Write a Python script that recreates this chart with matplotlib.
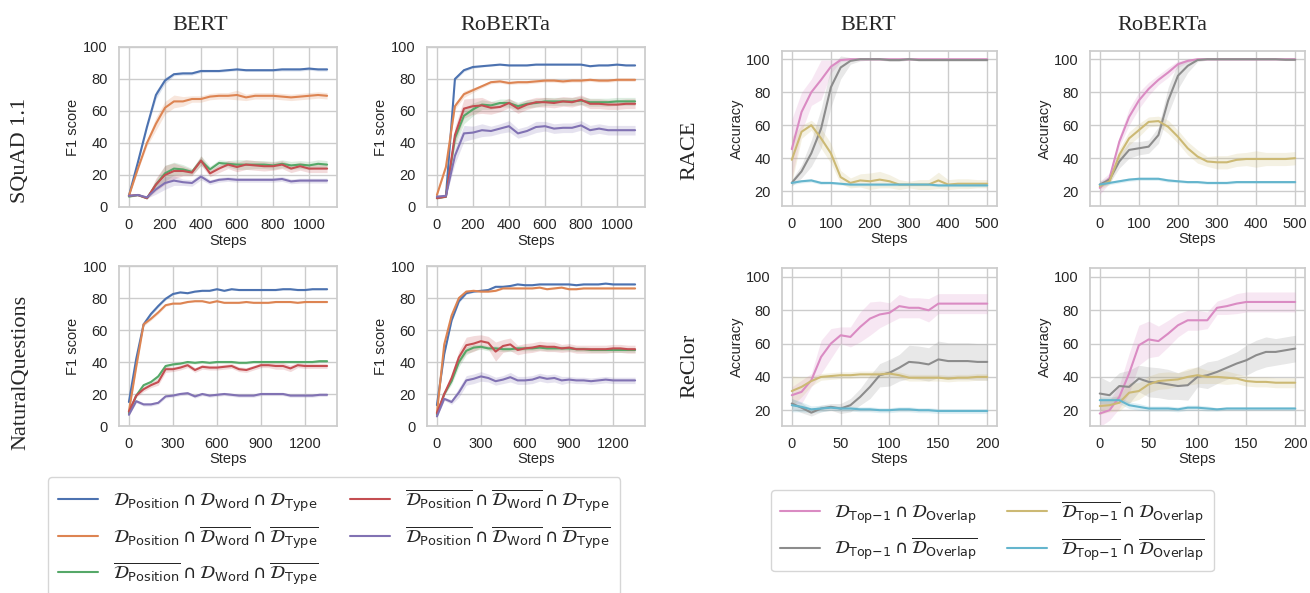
import numpy as np
import matplotlib
matplotlib.use('Agg')
import matplotlib.pyplot as plt
import seaborn as sns

sns.set_theme(style='whitegrid')
plt.rcParams['font.family'] = ['Liberation Sans', 'DejaVu Sans']
plt.rcParams['mathtext.fontset'] = 'dejavusans'

# ---------------- data: reading comprehension (F1) ----------------
squad_steps = list(range(0, 1101, 50))
nq_steps = list(range(0, 1351, 50))

squad_bert_blue = [7, 28, 50, 70, 79, 83, 83.5, 83.5, 85, 85, 85, 85.5, 86, 85.5, 85.5, 85.5, 85.5, 86, 86, 86, 86.5, 86, 86]
squad_bert_orange = [7, 24, 40, 52, 62, 66, 66, 67.5, 67.5, 69, 69.5, 69.5, 70, 68.5, 69.5, 69.5, 69.5, 69, 68.5, 69, 69.5, 70, 69.5]
squad_bert_green = [6.5, 7.5, 5.5, 14, 21, 24, 23.5, 22, 29, 23.5, 27.5, 27, 26.5, 26.5, 26.5, 26.5, 26, 27, 26, 26.5, 26, 27, 26.5]
squad_bert_red = [7, 7.5, 5.5, 14, 20, 22.5, 22.5, 21.5, 29, 21, 24, 26.5, 25, 26.5, 26, 25.5, 25.5, 26.5, 24, 25.5, 24, 24, 24]
squad_bert_purple = [7, 7.5, 6, 11, 15, 16.5, 15.5, 15, 19, 15.5, 17, 17.5, 17, 17, 17, 17, 17, 17.5, 16, 16.5, 16.5, 16.5, 16.5]

squad_bert_blue_band = [0.5, 1, 1.5, 2.5, 2, 1, 1, 1, 1, 0.8, 0.8, 0.8, 0.8, 0.8, 0.8, 0.8, 0.8, 1, 1, 1, 1, 1, 1]
squad_bert_orange_band = [0.5, 1, 2, 4, 4, 4, 3, 2, 2, 2, 2, 2, 3, 2, 2, 2, 2, 2, 2, 2, 2, 2, 2]
squad_bert_green_band = [0.5, 0.5, 0.5, 3, 5, 4, 3, 2, 3, 2, 2, 2, 3, 3, 2.5, 2.5, 2.5, 2.5, 2.5, 2.5, 2.5, 2.5, 2.5]
squad_bert_red_band = [0.5, 0.5, 0.5, 4, 6, 5, 3, 2, 3, 2, 2.5, 2.5, 3, 3, 3, 3, 2.5, 2.5, 2.5, 2.5, 2.5, 2.5, 2.5]
squad_bert_purple_band = [0.5, 0.5, 0.5, 3, 4, 3, 2, 2, 2, 1.5, 1.5, 1.5, 1.5, 1.5, 1.5, 1.5, 1.5, 1.5, 1.5, 1.5, 1.5, 1.5, 1.5]

squad_roberta_blue = [6, 6.5, 80, 85.5, 87.5, 88, 88.5, 89, 88.5, 88.5, 88.5, 89, 89, 89, 89, 89, 89, 88, 88.5, 88.5, 89, 88.5, 88.5]
squad_roberta_orange = [7.5, 25, 63, 70.5, 73, 75.5, 78, 78.5, 77.5, 78, 78, 78.5, 79, 79, 78.5, 79, 79, 79.5, 79, 79, 79.5, 79.5, 79.5]
squad_roberta_green = [5.5, 6.5, 43, 57, 61, 64, 63.5, 65, 65, 63, 64.5, 65, 66, 66, 66, 66, 66.5, 65.5, 65.5, 65.5, 66, 66, 66]
squad_roberta_red = [5.5, 6.5, 45, 61.5, 63, 63.5, 62, 62.5, 65, 61.5, 64, 65.5, 65.5, 65, 66, 65.5, 67, 64.5, 64.5, 64, 64, 64.5, 64.5]
squad_roberta_purple = [6.5, 7, 32, 46, 46.5, 48, 47.5, 49, 50.5, 46, 47.5, 50, 50.5, 49, 49.5, 49.5, 51, 48, 49, 48, 48, 48, 48]

squad_roberta_blue_band = [0.5, 0.5, 1, 1, 0.8, 0.5, 0.5, 0.5, 0.5, 0.5, 0.5, 0.5, 0.5, 0.5, 0.5, 0.5, 0.5, 0.5, 0.5, 0.5, 0.5, 0.5, 0.5]
squad_roberta_orange_band = [0.5, 1, 2, 2, 1.5, 1, 1, 1, 1, 1, 1, 1, 1, 1, 1, 1, 1, 1, 1, 1, 1, 1, 1]
squad_roberta_green_band = [0.5, 0.5, 5, 5, 4, 3, 2.5, 2.5, 2.5, 2.5, 2.5, 2.5, 2.5, 2.5, 2.5, 2.5, 2.5, 2.5, 2.5, 2.5, 2.5, 2.5, 2.5]
squad_roberta_red_band = [0.5, 0.5, 5, 6, 5, 5, 4, 3, 3, 3, 3, 3, 3, 3, 3, 3, 3, 3, 3, 3, 3, 3, 3]
squad_roberta_purple_band = [0.5, 0.5, 5, 5, 4, 4, 3, 3, 3.5, 3, 3, 3.5, 3, 3, 3, 3, 3, 3, 3, 3, 3, 3, 3]

nq_bert_blue = [15, 42, 63.5, 70, 75, 79.5, 82.5, 83.5, 83, 84, 84.5, 84.5, 85.5, 84.5, 85.5, 85, 85, 85, 85, 85, 85, 85.5, 85.5, 85, 85, 85.5, 85.5, 85.5]
nq_bert_orange = [9, 37, 63.5, 67, 71, 75.5, 76.5, 76.5, 77.5, 78, 78, 77, 78, 77, 77, 77, 77.5, 77, 77, 77, 77.5, 77.5, 77.5, 77, 77.5, 77.5, 77.5, 77.5]
nq_bert_green = [8, 19, 25.5, 27.5, 31, 37.5, 38.5, 39, 40, 39.5, 40, 39.5, 40, 40, 40, 39.5, 39.5, 40, 40, 40, 40, 40, 40, 40, 40, 40, 40.5, 40.5]
nq_bert_red = [9, 19, 23, 25.5, 27.5, 35.5, 35.5, 36.5, 38, 35, 37, 36.5, 36.5, 37, 37.5, 35.5, 35, 36.5, 38, 38, 37.5, 37.5, 36, 38, 37.5, 37.5, 37.5, 37.5]
nq_bert_purple = [7, 15.5, 13.5, 13.5, 14.5, 18.5, 19, 20, 20.5, 18.5, 20, 19, 19.5, 20, 19.5, 19, 19, 19, 20, 20, 20, 20, 19, 19, 19, 19, 19.5, 19.5]

nq_bert_blue_band = [0.5, 1, 1, 1, 1, 0.8, 0.5, 0.5, 0.5, 0.5, 0.5, 0.5, 0.5, 0.5, 0.5, 0.5, 0.5, 0.5, 0.5, 0.5, 0.5, 0.5, 0.5, 0.5, 0.5, 0.5, 0.5, 0.5]
nq_bert_orange_band = [0.5, 1, 1, 1, 1, 0.8, 0.5, 0.5, 0.5, 0.5, 0.5, 0.5, 0.5, 0.5, 0.5, 0.5, 0.5, 0.5, 0.5, 0.5, 0.5, 0.5, 0.5, 0.5, 0.5, 0.5, 0.5, 0.5]
nq_bert_green_band = [0.5, 1, 1, 1, 1.5, 1, 0.8, 0.8, 0.8, 0.8, 0.8, 0.8, 0.8, 0.8, 0.8, 0.8, 0.8, 0.8, 0.8, 0.8, 0.8, 0.8, 0.8, 0.8, 0.8, 0.8, 0.8, 0.8]
nq_bert_red_band = [0.5, 1, 1.5, 1.5, 2, 2, 1.5, 1.5, 1.5, 1.5, 1.5, 1.5, 1.5, 1.5, 1.5, 1.5, 1.5, 1.5, 1.5, 1.5, 2, 2, 2, 1.5, 1.5, 1.5, 1.5, 1.5]
nq_bert_purple_band = [0.5, 1, 1, 1, 1, 1, 1, 1, 1, 1, 1, 1, 1, 1, 1, 1, 1, 1, 1, 1, 1, 1, 1, 1, 1, 1, 1, 1]

nq_roberta_blue = [13, 45, 66, 78, 83, 84, 84.5, 85, 87, 87, 87.5, 88.5, 88, 88, 88.5, 88.5, 88.5, 88.5, 88.5, 88, 88.5, 88.5, 88.5, 89, 88.5, 88.5, 88.5, 88.5]
nq_roberta_orange = [8, 51, 69, 80, 84, 84.5, 84, 84, 84.5, 86, 86, 86, 86, 86, 86.5, 85.5, 86, 86.5, 85.5, 85.5, 86, 86, 86, 86, 86, 86, 86, 86]
nq_roberta_green = [7, 20, 28, 40, 47, 49, 49.5, 48.5, 48.5, 48, 48, 48.5, 48.5, 48.5, 49, 48.5, 48.5, 48.5, 48.5, 48, 48, 47.5, 47.5, 47.5, 47.5, 47.5, 47.5, 47.5]
nq_roberta_red = [8, 20, 30, 43, 50.5, 51.5, 53, 52, 46.5, 50, 51, 47.5, 48.5, 49, 50, 49.5, 49.5, 48.5, 49, 48, 48, 48, 48, 48, 48.5, 48.5, 48, 48]
nq_roberta_purple = [6, 17, 15, 21, 28.5, 29.5, 31, 30, 28, 29, 30.5, 28.5, 28.5, 29, 30.5, 29.5, 30, 28.5, 29, 28.5, 28.5, 28, 28.5, 29, 28.5, 28.5, 28.5, 28.5]

nq_roberta_blue_band = [0.5, 1, 1, 1, 0.8, 0.5, 0.5, 0.5, 0.5, 0.5, 0.5, 0.5, 0.5, 0.5, 0.5, 0.5, 0.5, 0.5, 0.5, 0.5, 0.5, 0.5, 0.5, 0.5, 0.5, 0.5, 0.5, 0.5]
nq_roberta_orange_band = [0.5, 1, 1, 1, 0.8, 0.5, 0.5, 0.5, 0.5, 0.5, 0.5, 0.5, 0.5, 0.5, 0.5, 0.5, 0.5, 0.5, 0.5, 0.5, 0.5, 0.5, 0.5, 0.5, 0.5, 0.5, 0.5, 0.5]
nq_roberta_green_band = [0.5, 1, 2, 3, 2.5, 2, 1.5, 1.5, 1.5, 1.5, 1.5, 1.5, 1.5, 1.5, 1.5, 1.5, 1.5, 1.5, 1.5, 1.5, 1.5, 1.5, 1.5, 1.5, 1.5, 1.5, 1.5, 1.5]
nq_roberta_red_band = [0.5, 1, 2, 4, 5, 5, 4, 4, 6, 4, 4, 3, 3, 3, 3, 3, 3, 2.5, 2.5, 2.5, 2.5, 2.5, 2.5, 2.5, 2.5, 2.5, 2.5, 2.5]
nq_roberta_purple_band = [0.5, 1, 1.5, 3, 3, 3, 3, 2.5, 2.5, 2.5, 3, 2.5, 2.5, 2.5, 2.5, 2.5, 2.5, 2.5, 2, 2, 2, 2, 2, 2, 2, 2, 2, 2]

# ---------------- data: multiple choice (accuracy) ----------------
race_steps = list(range(0, 501, 25))
reclor_steps = list(range(0, 201, 10))

race_bert_pink = [45.5, 68, 80, 87.5, 95.5, 99.5, 100, 100, 100, 100, 100, 100, 100, 100, 100, 100, 100, 100, 100, 100, 100]
race_bert_gray = [25, 32, 43, 58, 83, 95, 99, 100, 100, 100, 99.5, 99.5, 100, 99.5, 99.5, 99.5, 99.5, 99.5, 99.5, 99.5, 99.5]
race_bert_olive = [39, 56, 60, 52, 43, 28.5, 25, 26.5, 26, 27, 26, 24, 24, 24, 24, 26.5, 24, 24.5, 24.5, 24.5, 24.5]
race_bert_cyan = [25, 26, 26.5, 25, 25, 24.5, 24, 24, 24, 24, 24, 24, 24, 24, 24, 23.5, 23.5, 23.5, 23.5, 23.5, 23.5]

race_bert_pink_band = [18, 12, 8, 12, 4, 1, 0.5, 0.5, 0.5, 0.5, 0.5, 0.5, 0.5, 0.5, 0.5, 0.5, 0.5, 0.5, 0.5, 0.5, 0.5]
race_bert_gray_band = [2, 4, 8, 12, 12, 7, 2, 1, 0.5, 0.5, 0.8, 0.8, 0.5, 0.5, 0.5, 0.5, 0.5, 0.5, 0.5, 0.5, 0.5]
race_bert_olive_band = [14, 4, 3, 6, 6, 4, 3, 4, 5, 5, 4, 3, 2, 3, 3, 5, 3, 3, 3, 2.5, 2.5]
race_bert_cyan_band = [1, 1, 1, 1, 0.8, 0.8, 0.8, 0.8, 0.8, 0.8, 0.8, 0.8, 0.8, 0.8, 0.8, 0.8, 0.8, 0.8, 0.8, 0.8, 0.8]

race_roberta_pink = [22, 28, 50, 65, 75, 82, 87.5, 92, 97, 99, 100, 100, 100, 100, 100, 100, 100, 100, 100, 100, 100]
race_roberta_gray = [24, 27, 38, 45, 46, 47, 54, 75, 90, 96, 99.5, 100, 100, 100, 100, 100, 100, 100, 100, 99.7, 99.7]
race_roberta_olive = [23, 26, 42, 52, 57, 62, 62.5, 59, 53, 46, 41, 38, 37.5, 37.5, 39, 39.5, 39.5, 39.5, 39.5, 39.5, 40]
race_roberta_cyan = [24, 25, 26, 27, 27.5, 27.5, 27.5, 26.5, 26, 25.5, 25.5, 25, 25, 25, 25.5, 25.5, 25.5, 25.5, 25.5, 25.5, 25.5]

race_roberta_pink_band = [4, 3, 3, 5, 5, 4, 3, 3, 2, 1, 0.5, 0.5, 0.5, 0.5, 0.5, 0.5, 0.5, 0.5, 0.5, 0.5, 0.5]
race_roberta_gray_band = [2, 2, 4, 5, 4, 4, 5, 8, 8, 4, 1, 0.5, 0.5, 0.5, 0.5, 0.5, 0.5, 0.5, 0.5, 0.5, 0.5]
race_roberta_olive_band = [2, 2, 4, 4, 4, 3, 3, 4, 4, 4, 4, 3, 4, 4, 4, 4, 5, 4, 4, 4, 4]
race_roberta_cyan_band = [1, 1, 1, 1, 1, 1, 1, 1, 0.8, 0.8, 0.8, 0.8, 0.8, 0.8, 0.8, 0.8, 0.8, 0.8, 0.8, 0.8, 0.8]

reclor_bert_pink = [29, 31, 38, 52, 60, 65, 64, 70, 75, 77.5, 78.5, 82.5, 81.5, 81.5, 80, 84, 84, 84, 84, 84, 84]
reclor_bert_gray = [24, 21.5, 18.5, 21, 22, 21, 23, 28, 34, 41, 42.5, 45.5, 49, 48.5, 47.5, 50.5, 49.5, 49.5, 49.5, 49, 49]
reclor_bert_olive = [31.5, 34, 37.5, 40, 40.5, 41, 41, 41.5, 41.5, 41.5, 42, 41, 39.5, 39.5, 39.5, 39.5, 39, 39.5, 39.5, 40, 40]
reclor_bert_cyan = [23, 22, 20.5, 21, 21.5, 21, 21, 20.5, 20.5, 20, 20, 20.5, 20.5, 20, 20, 19.5, 19.5, 19.5, 19.5, 19.5, 19.5]

reclor_bert_pink_band = [5, 7, 4, 10, 9, 5, 6, 9, 10, 8, 6, 7, 6, 6, 7, 6, 6, 6, 6, 6, 6]
reclor_bert_gray_band = [3, 3, 2, 2, 2, 3, 4, 5, 7, 7, 8, 8, 10, 10, 10, 11, 11, 11, 11, 11, 11]
reclor_bert_olive_band = [9, 6, 3, 2, 2, 2, 2, 2, 2, 2, 2, 2, 2, 2, 2, 2, 2, 2, 2, 2, 2]
reclor_bert_cyan_band = [4, 3, 2, 2, 1.5, 1.5, 1.5, 1.5, 1.5, 1.5, 1.5, 1.5, 1.5, 1.5, 1.5, 1.5, 1.5, 1.5, 1.5, 1.5, 1.5]

reclor_roberta_pink = [18, 20, 28, 42, 59, 62.5, 61.5, 66, 71, 74, 74, 74, 81.5, 82.5, 84, 85, 85, 85, 85, 85, 85]
reclor_roberta_gray = [30, 29, 34.5, 34, 39, 37, 36.5, 35.5, 34.5, 35, 40, 41, 43, 45.5, 48, 50, 53, 55, 55, 56, 57]
reclor_roberta_olive = [22.5, 23, 24.5, 30.5, 31.5, 35.5, 37.5, 38, 38.5, 40, 41, 40, 40, 39.5, 39, 37.5, 37, 37, 36.5, 36.5, 36.5]
reclor_roberta_cyan = [26, 26, 26, 23, 22, 21, 21, 21, 20.5, 21.5, 21.5, 21, 20.5, 21, 21, 21, 21, 21, 21, 21, 21]

reclor_roberta_pink_band = [8, 6, 7, 12, 12, 11, 9, 8, 7, 6, 6, 5, 4, 5, 6, 6, 6, 6, 6, 6, 6]
reclor_roberta_gray_band = [10, 8, 8, 10, 8, 9, 9, 9, 8, 9, 6, 8, 7, 7, 7, 9, 9, 9, 8, 8, 8]
reclor_roberta_olive_band = [5, 4, 5, 6, 5, 5, 5, 5, 4, 5, 5, 4, 4, 4, 3, 3, 3, 3, 3, 3, 3]
reclor_roberta_cyan_band = [2, 2, 2, 2, 2, 1.5, 1.5, 1.5, 1.5, 1.5, 1.5, 1.5, 1, 1, 1, 1, 1, 1, 1, 1, 1]

# ---------------- labels ----------------
left_labels = [
    r'$\mathcal{D}_{\mathrm{Position}} \cap \mathcal{D}_{\mathrm{Word}} \cap \mathcal{D}_{\mathrm{Type}}$',
    r'$\mathcal{D}_{\mathrm{Position}} \cap \overline{\mathcal{D}_{\mathrm{Word}}} \cap \overline{\mathcal{D}_{\mathrm{Type}}}$',
    r'$\overline{\mathcal{D}_{\mathrm{Position}}} \cap \mathcal{D}_{\mathrm{Word}} \cap \overline{\mathcal{D}_{\mathrm{Type}}}$',
    r'$\overline{\mathcal{D}_{\mathrm{Position}}} \cap \overline{\mathcal{D}_{\mathrm{Word}}} \cap \mathcal{D}_{\mathrm{Type}}$',
    r'$\overline{\mathcal{D}_{\mathrm{Position}}} \cap \overline{\mathcal{D}_{\mathrm{Word}}} \cap \overline{\mathcal{D}_{\mathrm{Type}}}$',
]
right_labels = [
    r'$\mathcal{D}_{\mathrm{Top{-}1}} \cap \mathcal{D}_{\mathrm{Overlap}}$',
    r'$\mathcal{D}_{\mathrm{Top{-}1}} \cap \overline{\mathcal{D}_{\mathrm{Overlap}}}$',
    r'$\overline{\mathcal{D}_{\mathrm{Top{-}1}}} \cap \mathcal{D}_{\mathrm{Overlap}}$',
    r'$\overline{\mathcal{D}_{\mathrm{Top{-}1}}} \cap \overline{\mathcal{D}_{\mathrm{Overlap}}}$',
]

deep = sns.color_palette('deep')
left_colors = [deep[0], deep[1], deep[2], deep[3], deep[4]]
right_colors = [deep[6], deep[7], deep[8], deep[9]]

W, H = 1310, 593
fig = plt.figure(figsize=(W / 100, H / 100), dpi=100)


def add_ax(l, t, r, b):
    return fig.add_axes([l / W, 1 - b / H, (r - l) / W, (b - t) / H])


def draw(ax, x, series, bands, colors, labels):
    x = np.array(x)
    lines = []
    for y, h, c, lab in zip(series, bands, colors, labels):
        y = np.array(y, dtype=float)
        h = np.array(h, dtype=float)
        ax.fill_between(x, y - h, y + h, color=c, alpha=0.2, linewidth=0)
        ln, = ax.plot(x, y, color=c, linewidth=1.5, label=lab)
        lines.append(ln)
    ax.tick_params(labelsize=10.5, pad=2)
    ax.set_xlabel('Steps', fontsize=10.5, labelpad=1)
    return lines


# left panels
ax = add_ax(119, 47, 337, 207)
left_lines = draw(ax, squad_steps,
                  [squad_bert_blue, squad_bert_orange, squad_bert_green, squad_bert_red, squad_bert_purple],
                  [squad_bert_blue_band, squad_bert_orange_band, squad_bert_green_band, squad_bert_red_band, squad_bert_purple_band],
                  left_colors, left_labels)
ax.set_xticks(range(0, 1001, 200))

ax2 = add_ax(427, 47, 645, 207)
draw(ax2, squad_steps,
     [squad_roberta_blue, squad_roberta_orange, squad_roberta_green, squad_roberta_red, squad_roberta_purple],
     [squad_roberta_blue_band, squad_roberta_orange_band, squad_roberta_green_band, squad_roberta_red_band, squad_roberta_purple_band],
     left_colors, left_labels)
ax2.set_xticks(range(0, 1001, 200))

ax3 = add_ax(119, 266, 337, 426)
draw(ax3, nq_steps,
     [nq_bert_blue, nq_bert_orange, nq_bert_green, nq_bert_red, nq_bert_purple],
     [nq_bert_blue_band, nq_bert_orange_band, nq_bert_green_band, nq_bert_red_band, nq_bert_purple_band],
     left_colors, left_labels)
ax3.set_xticks(range(0, 1201, 300))

ax4 = add_ax(427, 266, 645, 426)
draw(ax4, nq_steps,
     [nq_roberta_blue, nq_roberta_orange, nq_roberta_green, nq_roberta_red, nq_roberta_purple],
     [nq_roberta_blue_band, nq_roberta_orange_band, nq_roberta_green_band, nq_roberta_red_band, nq_roberta_purple_band],
     left_colors, left_labels)
ax4.set_xticks(range(0, 1201, 300))

for a in (ax, ax2, ax3, ax4):
    a.set_ylim(0, 100)
    a.set_yticks(range(0, 101, 20))
    a.set_ylabel('F1 score', fontsize=10.5, labelpad=2)

# right panels
bx = add_ax(782, 51, 997, 206)
right_lines = draw(bx, race_steps,
                   [race_bert_pink, race_bert_gray, race_bert_olive, race_bert_cyan],
                   [race_bert_pink_band, race_bert_gray_band, race_bert_olive_band, race_bert_cyan_band],
                   right_colors, right_labels)
bx2 = add_ax(1090, 51, 1305, 206)
draw(bx2, race_steps,
     [race_roberta_pink, race_roberta_gray, race_roberta_olive, race_roberta_cyan],
     [race_roberta_pink_band, race_roberta_gray_band, race_roberta_olive_band, race_roberta_cyan_band],
     right_colors, right_labels)
for a in (bx, bx2):
    a.set_xlim(-25, 525)
    a.set_ylim(11, 105)
    a.set_xticks(range(0, 501, 100))

bx3 = add_ax(782, 268, 997, 426)
draw(bx3, reclor_steps,
     [reclor_bert_pink, reclor_bert_gray, reclor_bert_olive, reclor_bert_cyan],
     [reclor_bert_pink_band, reclor_bert_gray_band, reclor_bert_olive_band, reclor_bert_cyan_band],
     right_colors, right_labels)
bx4 = add_ax(1090, 268, 1305, 426)
draw(bx4, reclor_steps,
     [reclor_roberta_pink, reclor_roberta_gray, reclor_roberta_olive, reclor_roberta_cyan],
     [reclor_roberta_pink_band, reclor_roberta_gray_band, reclor_roberta_olive_band, reclor_roberta_cyan_band],
     right_colors, right_labels)
for a in (bx3, bx4):
    a.set_xlim(-10, 210)
    a.set_ylim(10.5, 105.4)
    a.set_xticks(range(0, 201, 50))

for a in (bx, bx2, bx3, bx4):
    a.set_yticks(range(20, 101, 20))
    a.set_ylabel('Accuracy', fontsize=10.5, labelpad=2)

# column and row titles
serif = dict(family='Liberation Serif', fontsize=16)
fig.text(200 / W, 1 - 25 / H, 'BERT', ha='center', va='center', **serif)
fig.text(505 / W, 1 - 25 / H, 'RoBERTa', ha='center', va='center', **serif)
fig.text(868 / W, 1 - 25 / H, 'BERT', ha='center', va='center', **serif)
fig.text(1162 / W, 1 - 25 / H, 'RoBERTa', ha='center', va='center', **serif)
fig.text(21 / W, 1 - 150 / H, 'SQuAD 1.1', ha='center', va='center', rotation=90, **serif)
fig.text(21 / W, 1 - 372 / H, 'NaturalQuestions', ha='center', va='center', rotation=90, **serif)
fig.text(690 / W, 1 - 150 / H, 'RACE', ha='center', va='center', rotation=90, **serif)
fig.text(690 / W, 1 - 366 / H, 'ReClor', ha='center', va='center', rotation=90, **serif)

# legends
fig.legend(handles=left_lines, labels=left_labels, ncol=2, loc='upper left',
           bbox_to_anchor=(48 / W, 1 - 477 / H), fontsize=13.2, frameon=True,
           labelspacing=0.55, columnspacing=1.7, handlelength=2.2, borderpad=0.55,
           borderaxespad=0)
fig.legend(handles=right_lines, labels=right_labels, ncol=2, loc='upper left',
           bbox_to_anchor=(771 / W, 1 - 490 / H), fontsize=13, frameon=True,
           labelspacing=0.55, columnspacing=1.6, handlelength=2.2, borderpad=0.5,
           borderaxespad=0)

fig.savefig('out.png', dpi=100)
